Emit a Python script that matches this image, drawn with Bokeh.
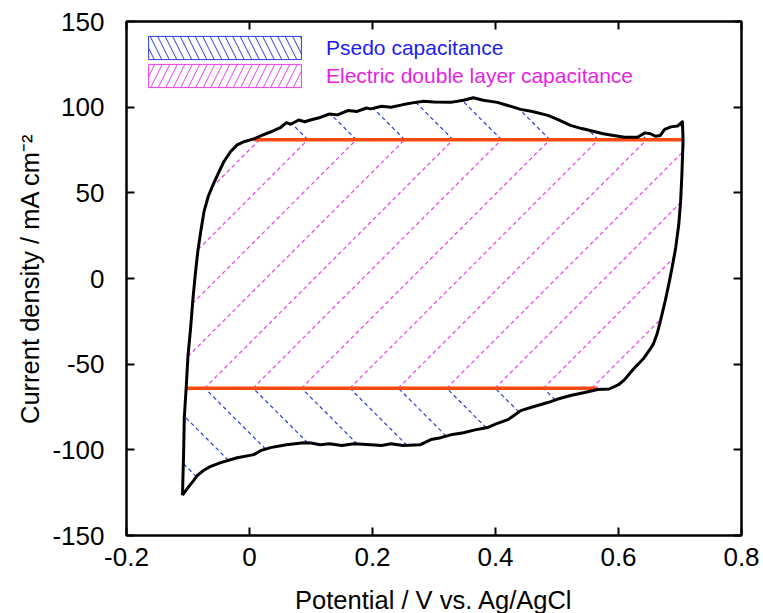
import numpy as np
from bokeh.plotting import figure
from bokeh.models import LinearAxis, FixedTicker, Legend, LegendItem, CustomLabelingPolicy
from bokeh.embed import file_html
from bokeh.resources import INLINE

# ---------------- data ----------------
# anodic sweep (upper branch), potential / V and current density / mA cm-2
anodic_x = [-0.109, -0.107, -0.106, -0.103, -0.100, -0.096, -0.092, -0.088, -0.084, -0.079,
            -0.074, -0.067, -0.059, -0.050, -0.042, -0.031, -0.020, -0.008, 0.007, 0.020,
            0.034, 0.050, 0.060, 0.067, 0.080, 0.090, 0.099, 0.115, 0.130, 0.143,
            0.160, 0.175, 0.190, 0.197, 0.215, 0.230, 0.250, 0.265, 0.283, 0.300,
            0.327, 0.348, 0.364, 0.380, 0.403, 0.420, 0.441, 0.460, 0.485, 0.500,
            0.522, 0.540, 0.554, 0.575, 0.592, 0.610, 0.631, 0.643, 0.652, 0.660,
            0.668, 0.675, 0.685, 0.696, 0.704]
anodic_y = [-126.5, -100, -81, -64, -45, -30, -12, 3, 16, 28,
            39, 48, 55, 62, 68, 74, 78, 80, 81.5, 83.5,
            85.5, 88, 91, 90, 92.5, 91.5, 92.5, 94, 96, 95.5,
            98, 97.5, 99.5, 99, 100.5, 100, 101.5, 102.5, 103.5, 103,
            102.8, 104, 105.5, 104, 102.8, 101, 98.7, 97.5, 95.2, 93,
            89.4, 87.5, 86.4, 84.5, 83.5, 82.5, 82.4, 85, 84.5, 83,
            83.5, 87, 88.5, 89, 91.5]
# cathodic sweep (lower branch)
cathodic_x = [0.705, 0.703, 0.701, 0.698, 0.693, 0.688, 0.682, 0.676, 0.668, 0.663,
              0.657, 0.652, 0.640, 0.624, 0.610, 0.600, 0.585, 0.566, 0.545, 0.522,
              0.500, 0.485, 0.460, 0.441, 0.430, 0.420, 0.400, 0.387, 0.365, 0.348,
              0.330, 0.311, 0.295, 0.278, 0.250, 0.230, 0.215, 0.197, 0.170, 0.150,
              0.130, 0.115, 0.100, 0.088, 0.060, 0.034, 0.018, 0.007, -0.020, -0.047,
              -0.065, -0.075, -0.085, -0.091, -0.100, -0.109]
cathodic_y = [80.6, 60, 45, 31.5, 18, 8, -3, -13, -25, -32,
              -38, -41, -47, -53, -59, -62, -64.5, -64.8, -66.5, -68.3,
              -70.5, -72.4, -75, -77.1, -80, -82.4, -85, -87, -88.5, -90,
              -91, -92.9, -94, -97, -97.5, -96.5, -97.5, -97, -96.5, -97.5,
              -96.5, -97, -96, -95.8, -97, -98.7, -100.5, -102.8, -104.6, -107.5,
              -110, -112.1, -115, -118, -122, -126.5]

# capacitance baselines (orange lines)
base_y = [81, -64]
base_x0 = [0.007, -0.102]
base_x1 = [0.706, 0.566]

x_ticks = [-0.2, 0, 0.2, 0.4, 0.6, 0.8]
x_tick_labels = ["-0.2", "0", "0.2", "0.4", "0.6", "0.8"]
y_ticks = [-150, -100, -50, 0, 50, 100, 150]
y_tick_labels = ["-150", "-100", "-50", "0", "50", "100", "150"]

label_pseudo = "Psedo capacitance"
label_edlc = "Electric double layer capacitance"

# ---------------- styling ----------------
FONT = "Liberation Sans"
FW, FH = 615, 514
X0, X1, Y0, Y1 = -0.2, 0.8, -150, 150
SX = FW / (X1 - X0)
SY = FH / (Y1 - Y0)
STEP = 48.4      # hatch spacing (px, horizontal)
PHASE = 32.0     # hatch phase (px)
PINK = "#ee3cee"
BLUE = "#2a3be0"
ORANGE = "#ff4a14"

p = figure(frame_width=FW, frame_height=FH, x_range=(X0, X1), y_range=(Y0, Y1),
           output_backend="svg", toolbar_location=None,
           min_border_left=126, min_border_right=14, min_border_top=14, min_border_bottom=84)
p.grid.visible = False
p.background_fill_color = "white"
p.border_fill_color = "white"
p.outline_line_color = "black"
p.outline_line_width = 2

loop_x = np.array(anodic_x + cathodic_x)
loop_y = np.array(anodic_y + cathodic_y)
U = np.append(loop_x, loop_x[0]) * SX
V = np.append(loop_y, loop_y[0]) * SY


def hatch_segments(s, phase, vmin, vmax):
    """Dashed hatch lines v - s*u = k clipped to loop and vmin<=v<=vmax."""
    kvals = V - s * U
    kmin, kmax = kvals.min(), kvals.max()
    n0 = int(np.floor((kmin - phase) / STEP))
    n1 = int(np.ceil((kmax - phase) / STEP))
    xs, ys = [], []
    for n in range(n0, n1 + 1):
        k = phase + n * STEP
        g = V - s * U - k
        vs = []
        for i in range(len(g) - 1):
            g1, g2 = g[i], g[i + 1]
            if (g1 > 0) != (g2 > 0):
                t = g1 / (g1 - g2)
                vs.append(V[i] + t * (V[i + 1] - V[i]))
        vs.sort()
        for a, b in zip(vs[0::2], vs[1::2]):
            a2, b2 = max(a, vmin), min(b, vmax)
            if b2 > a2:
                xs.append([s * (a2 - k) / SX, s * (b2 - k) / SX])
                ys.append([a2 / SY, b2 / SY])
    return xs, ys


v_up = base_y[0] * SY
v_lo = base_y[1] * SY
px, py = hatch_segments(1, PHASE, v_lo, v_up)
bx1, by1 = hatch_segments(-1, 2 * v_up - PHASE, v_up, 1e9)
bx2, by2 = hatch_segments(-1, 2 * v_lo - PHASE, -1e9, v_lo)

p.multi_line(px, py, line_color=PINK, line_width=1.2, line_dash="4 3")
p.multi_line(bx1 + bx2, by1 + by2, line_color=BLUE, line_width=1.2, line_dash="4 3")

p.segment(x0=base_x0, y0=base_y, x1=base_x1, y1=base_y, line_color=ORANGE, line_width=3.5)
p.line(list(loop_x) + [loop_x[0]], list(loop_y) + [loop_y[0]], line_color="black",
       line_width=3, line_join="round")

# legend-only renderers
r_pseudo = p.patch(list(loop_x), list(loop_y), fill_alpha=0, line_color=BLUE, line_width=1,
                   hatch_pattern="\\", hatch_color=BLUE, hatch_scale=15, hatch_weight=1,
                   visible=False)
r_edlc = p.patch(list(loop_x), list(loop_y), fill_alpha=0, line_color=PINK, line_width=1,
                 hatch_pattern="/", hatch_color=PINK, hatch_scale=15, hatch_weight=1,
                 visible=False)

for r, lab, col, loc in [(r_pseudo, label_pseudo, "#1c1cf0", (3, 473)),
                         (r_edlc, label_edlc, "#e81ee8", (3, 445))]:
    leg = Legend(items=[LegendItem(label=lab, renderers=[r])], location=loc,
                 glyph_width=191, glyph_height=29, label_height=29, label_standoff=6,
                 label_text_font=FONT, label_text_font_size="21px", label_text_color=col,
                 padding=0, margin=0, spacing=0, border_line_alpha=0,
                 background_fill_alpha=0, click_policy="none")
    p.add_layout(leg)

# axes
p.xaxis.ticker = FixedTicker(ticks=x_ticks)
p.yaxis.ticker = FixedTicker(ticks=y_ticks)
p.xaxis.major_label_overrides = dict(zip(x_ticks, x_tick_labels))
p.yaxis.major_label_overrides = dict(zip(y_ticks, y_tick_labels))
p.xaxis.axis_label = "Potential / V vs. Ag/AgCl"
p.yaxis.axis_label = "Current density / mA cm\u207b\u00b2"
hide = "for (const i of indices) { indices.unset(i) } return indices"
p.add_layout(LinearAxis(ticker=FixedTicker(ticks=x_ticks), major_label_standoff=0,
                        major_label_policy=CustomLabelingPolicy(code=hide)), "above")
p.add_layout(LinearAxis(ticker=FixedTicker(ticks=y_ticks), major_label_standoff=0,
                        major_label_policy=CustomLabelingPolicy(code=hide)), "right")
for ax in p.axis:
    ax.axis_line_width = 2
    ax.axis_line_color = "black"
    ax.major_tick_in = 8
    ax.major_tick_out = 0
    ax.major_tick_line_width = 2
    ax.minor_tick_line_color = None
    ax.major_label_text_font = FONT
    ax.major_label_text_color = "black"
    ax.major_label_text_font_size = "26px"
    ax.axis_label_text_font = FONT
    ax.axis_label_text_font_style = "normal"
    ax.axis_label_text_color = "black"
    ax.axis_label_text_font_size = "25.5px"
p.below[0].major_label_standoff = 12
p.below[0].axis_label_standoff = 17
p.left[0].major_label_standoff = 22
p.left[0].axis_label_standoff = 5

open("out.html", "w").write(file_html(p, INLINE))
